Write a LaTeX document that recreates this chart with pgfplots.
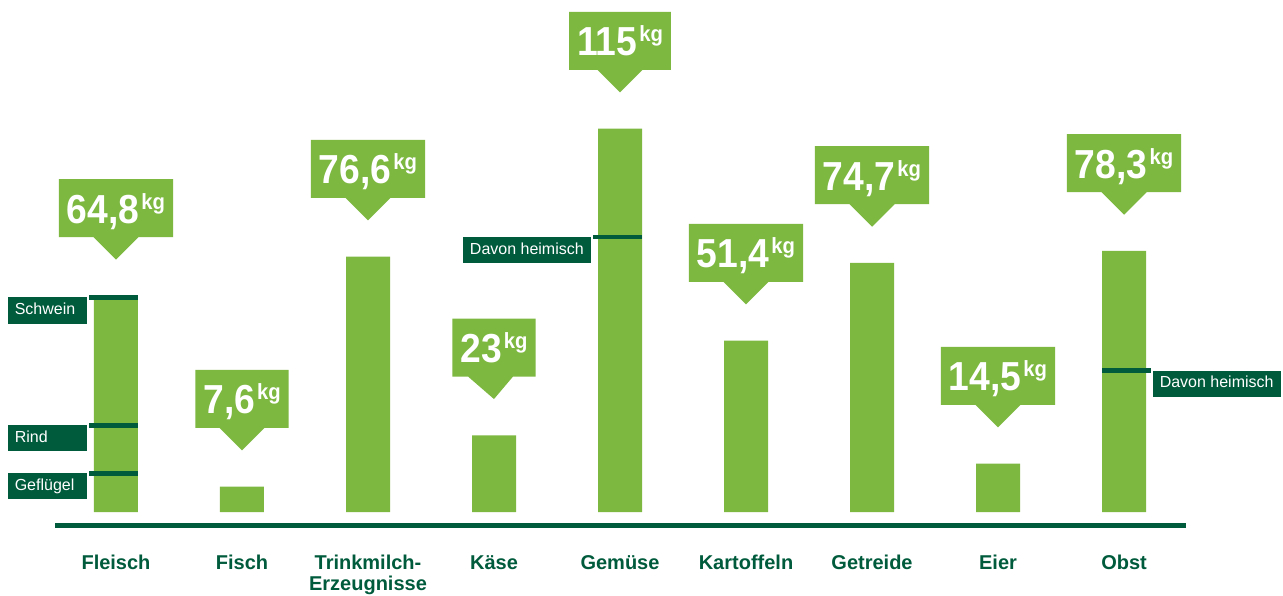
\documentclass[border=0pt]{standalone}
\usepackage{fontspec}
\setmainfont{Liberation Sans}
\newfontfamily\numfont[FakeStretch=0.92]{Liberation Sans}
\usepackage{pgfplots}
\pgfplotsset{compat=1.18}
\usepackage{pgfplotstable}
\usetikzlibrary{shapes.callouts}
\definecolor{lgreen}{RGB}{125,184,65}
\definecolor{dgreen}{RGB}{0,90,60}

\pgfplotstableread{
x y label
0 64.8 64,8
1 7.6 7,6
2 76.6 76,6
3 23 23
4 115 115
5 51.4 51,4
6 74.7 74,7
7 14.5 14,5
8 78.3 78,3
}\consumption

\tikzset{labelbox/.style={fill=dgreen, text=white, font=\fontsize{16}{18}\selectfont,
  minimum height=26pt, inner ysep=0pt, inner xsep=7pt, text height=12pt, text depth=3.5pt}}

\begin{document}
\begin{tikzpicture}[x=1pt,y=1pt]
\useasboundingbox (0,0) rectangle (1283,595);
\begin{axis}[
  at={(55pt,69.5pt)}, anchor=south west,
  scale only axis, width=1131pt, height=525.5pt,
  xmin=-0.484, xmax=8.492, ymin=-4.05, ymax=153.6,
  axis x line*=bottom, axis y line=none,
  x axis line style={line width=5pt, draw=dgreen, -},
  xtick={0,...,8},
  xticklabels={Fleisch, Fisch, {Trinkmilch-\\Erzeugnisse}, Käse, Gemüse, Kartoffeln, Getreide, Eier, Obst},
  major tick length=0pt,
  xticklabel style={font=\bfseries\fontsize{20}{21}\selectfont, text=dgreen, align=center, inner sep=0pt, anchor=north},
  xticklabel shift=29.5pt,
  clip=false,
]
\addplot[ybar, bar width=44pt, fill=lgreen, draw=none,
  point meta=explicit symbolic,
  nodes near coords={\numfont\bfseries\fontsize{40.5}{40}\selectfont\pgfplotspointmeta\hspace{2pt}\raisebox{14pt}{\fontsize{22}{22}\selectfont kg}},
  nodes near coords style={shape=rectangle callout, fill=lgreen, text=white,
    callout relative pointer={(0pt,-22.5pt)}, callout pointer width=45pt,
    anchor=pointer, yshift=36pt, inner xsep=8pt, inner ysep=0pt,
    text height=44pt, text depth=14pt}]
  table[x=x, y=y, meta=label]{\consumption};

\addplot[dgreen, line width=4.5pt, forget plot] coordinates {(-0.214,64.35) (0.175,64.35)}
  node[pos=0, anchor=north east, yshift=2.25pt, labelbox, text width=65pt, align=left]{Schwein};
\addplot[dgreen, line width=4.5pt, forget plot] coordinates {(-0.214,26.0) (0.175,26.0)}
  node[pos=0, anchor=north east, yshift=2.25pt, labelbox, text width=65pt, align=left]{Rind};
\addplot[dgreen, line width=4.5pt, forget plot] coordinates {(-0.214,11.6) (0.175,11.6)}
  node[pos=0, anchor=north east, yshift=2.25pt, labelbox, text width=65pt, align=left]{Geflügel};
\addplot[dgreen, line width=4.5pt, forget plot] coordinates {(3.786,82.5) (4.175,82.5)}
  node[pos=0, anchor=north east, yshift=2.25pt, labelbox]{Davon heimisch};
\addplot[dgreen, line width=4.5pt, forget plot] coordinates {(7.825,42.45) (8.21,42.45)}
  node[pos=1, anchor=north west, yshift=2.25pt, labelbox]{Davon heimisch};
\end{axis}
\end{tikzpicture}
\end{document}
